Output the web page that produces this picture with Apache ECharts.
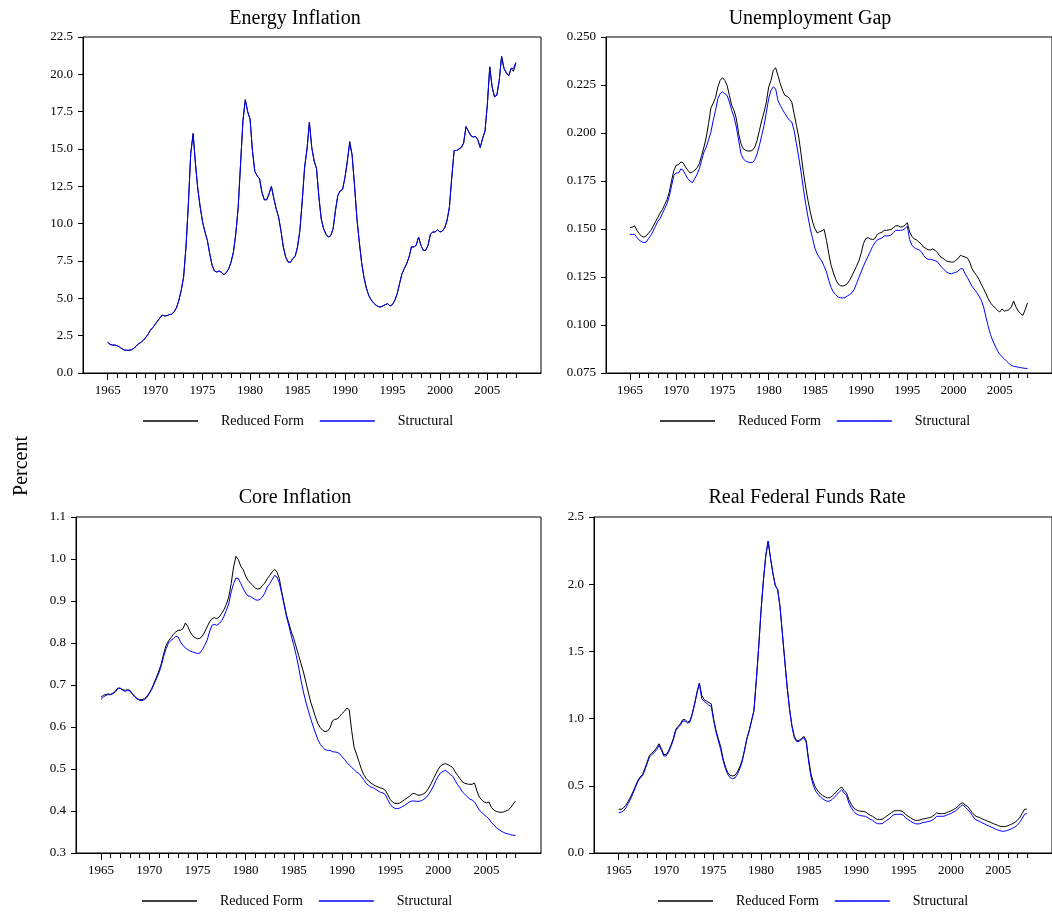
<!DOCTYPE html>
<html>
<head>
<meta charset="utf-8">
<script src="https://cdn.jsdelivr.net/npm/echarts@6/dist/echarts.min.js"></script>
<style>
html,body{margin:0;padding:0;background:#fff;}
#chart{width:1052px;height:914px;}
</style>
</head>
<body>
<div id="chart"></div>
<script>
// Quarterly observations, 1965Q1 .. 2008Q1
const START_YEAR = 1965;
const PERIODS_PER_YEAR = 4;

const panelTitles = ['Energy Inflation', 'Unemployment Gap', 'Core Inflation', 'Real Federal Funds Rate'];
const seriesNames = ['Reduced Form', 'Structural'];
const yAxisTitle = 'Percent';
const xLabelYears = [1965, 1970, 1975, 1980, 1985, 1990, 1995, 2000, 2005];
const xTickYears = [1965,1966,1967,1968,1969,1970,1971,1972,1973,1974,1975,1976,1977,1978,1979,1980,1981,1982,1983,1984,1985,1986,1987,1988,1989,1990,1991,1992,1993,1994,1995,1996,1997,1998,1999,2000,2001,2002,2003,2004,2005,2006,2007,2008];

const energyStructural = [2.05,1.92,1.87,1.87, 1.83,1.74,1.63,1.54, 1.52,1.52,1.56,1.65, 1.79,1.96,2.05,2.19, 2.37,2.59,2.86,3.04, 3.26,3.48,3.68,3.88, 3.82,3.84,3.91,3.93, 4.11,4.37,4.87,5.54, 6.43,8.44,11.3,14.7, 15.98,14.0,12.3,11.1, 10.1,9.44,8.88,7.99, 7.21,6.83,6.76,6.83, 6.74,6.58,6.74,6.99, 7.43,8.10,9.33,11.1, 14.0,16.9,18.3,17.5, 17.0,14.9,13.5,13.2, 13.0,12.1,11.6,11.6, 12.0,12.5,11.7,11.0, 10.45,9.55,8.44,7.77, 7.43,7.41,7.66,7.81, 8.44,9.55,11.56,13.8, 15.0,16.8,15.1,14.2, 13.7,11.8,10.3,9.66, 9.29,9.1,9.2,9.66, 10.9,11.9,12.2,12.3, 13.1,14.2,15.4,14.6, 12.6,10.4,8.8,7.4, 6.4,5.7,5.2,4.9, 4.7,4.55,4.45,4.42, 4.49,4.58,4.64,4.49, 4.58,4.87,5.31,5.98, 6.65,6.99,7.32,7.77, 8.44,8.44,8.55,9.1, 8.55,8.21,8.21,8.55, 9.29,9.44,9.44,9.6, 9.44,9.5,9.71,10.2, 11.1,13.1,14.9,14.9, 15.0,15.1,15.4,16.5, 16.2,15.9,15.8,15.85, 15.6,15.1,15.7,16.2, 18.0,20.5,19.15,18.5, 18.6,19.6,21.2,20.4, 20.1,19.9,20.4,20.4, 20.8];
const energyReduced = [2.05,1.92,1.87,1.87, 1.83,1.74,1.63,1.54, 1.52,1.52,1.56,1.65, 1.79,1.96,2.05,2.19, 2.37,2.59,2.86,3.04, 3.26,3.48,3.68,3.88, 3.82,3.84,3.91,3.93, 4.11,4.37,4.87,5.54, 6.43,8.44,11.3,14.7, 16.05,14.0,12.3,11.1, 10.1,9.44,8.88,7.99, 7.21,6.83,6.76,6.83, 6.74,6.58,6.74,6.99, 7.43,8.10,9.33,11.1, 14.0,16.9,18.3,17.5, 17.0,14.9,13.5,13.2, 13.0,12.1,11.6,11.6, 12.0,12.5,11.7,11.0, 10.45,9.55,8.44,7.77, 7.43,7.41,7.66,7.81, 8.44,9.55,11.56,13.8, 15.0,16.8,15.1,14.2, 13.7,11.8,10.3,9.66, 9.29,9.1,9.2,9.66, 10.9,11.9,12.2,12.3, 13.1,14.2,15.5,14.6, 12.6,10.4,8.8,7.4, 6.4,5.7,5.2,4.9, 4.7,4.55,4.45,4.42, 4.49,4.58,4.64,4.49, 4.58,4.87,5.31,5.98, 6.65,6.99,7.32,7.77, 8.44,8.44,8.55,9.1, 8.55,8.21,8.21,8.55, 9.29,9.44,9.44,9.6, 9.44,9.5,9.71,10.2, 11.1,13.1,14.9,14.9, 15.0,15.1,15.4,16.5, 16.2,15.9,15.8,15.85, 15.6,15.1,15.7,16.2, 18.0,20.5,19.15,18.5, 18.6,19.6,21.2,20.4, 20.1,19.9,20.4,20.2, 20.75];

const unempReduced = [0.1507,0.1510,0.1516,0.1493, 0.1476,0.1462,0.1458,0.1464, 0.1479,0.1493,0.1514,0.1537, 0.1559,0.1583,0.1601,0.1627, 0.1653,0.1693,0.1754,0.1806, 0.1832,0.1835,0.1849,0.1844, 0.1823,0.1806,0.1792,0.1797, 0.1806,0.1819,0.1840,0.1884, 0.1927,0.1979,0.2049,0.2130, 0.2156,0.2184,0.2240,0.2274, 0.2288,0.2274,0.2248,0.2196, 0.2144,0.2118,0.2075,0.1997, 0.1944,0.1918,0.1910,0.1906, 0.1906,0.1910,0.1927,0.1962, 0.2014,0.2066,0.2109,0.2161, 0.2240,0.2274,0.2326,0.2340, 0.2300,0.2257,0.2222,0.2196, 0.2191,0.2179,0.2161,0.2101, 0.2040,0.1979,0.1892,0.1797, 0.1719,0.1649,0.1589,0.1537, 0.1502,0.1479,0.1486,0.1490, 0.1498,0.1441,0.1372,0.1311, 0.1271,0.1238,0.1215,0.1205, 0.1203,0.1207,0.1215,0.1233, 0.1255,0.1281,0.1306,0.1333, 0.1372,0.1424,0.1450,0.1455, 0.1448,0.1445,0.1450,0.1472, 0.1479,0.1483,0.1493,0.1493, 0.1495,0.1498,0.1507,0.1517, 0.1517,0.1510,0.1512,0.1519, 0.1533,0.1484,0.1462,0.1448, 0.1443,0.1432,0.1422,0.1406, 0.1399,0.1392,0.1391,0.1396, 0.1389,0.1377,0.1359,0.1351, 0.1342,0.1333,0.1330,0.1328, 0.1328,0.1337,0.1347,0.1363, 0.1358,0.1354,0.1349,0.1328, 0.1293,0.1274,0.1257,0.1238, 0.1212,0.1189,0.1163,0.1137, 0.1115,0.1101,0.1089,0.1077, 0.1068,0.1083,0.1073,0.1075, 0.1080,0.1094,0.1125,0.1094, 0.1073,0.1059,0.1050,0.1080, 0.1115];
const unempStructural = [0.1472,0.1472,0.1472,0.1455, 0.1441,0.1434,0.1429,0.1432, 0.1450,0.1467,0.1490,0.1514, 0.1540,0.1554,0.1580,0.1606, 0.1632,0.1670,0.1727,0.1780, 0.1792,0.1792,0.1813,0.1806, 0.1783,0.1762,0.1750,0.1741, 0.1762,0.1785,0.1814,0.1858, 0.1901,0.1927,0.1965,0.2005, 0.2066,0.2118,0.2179,0.2205, 0.2214,0.2205,0.2196,0.2161, 0.2118,0.2083,0.2031,0.1962, 0.1892,0.1866,0.1854,0.1849, 0.1846,0.1846,0.1861,0.1892, 0.1936,0.1988,0.2040,0.2109, 0.2179,0.2222,0.2240,0.2231, 0.2170,0.2144,0.2122,0.2101, 0.2083,0.2066,0.2057,0.2014, 0.1944,0.1875,0.1797,0.1710, 0.1632,0.1563,0.1502,0.1450, 0.1400,0.1370,0.1350,0.1333, 0.1306,0.1276,0.1233,0.1195, 0.1172,0.1158,0.1146,0.1142, 0.1141,0.1142,0.1151,0.1158, 0.1167,0.1186,0.1215,0.1247, 0.1276,0.1306,0.1333,0.1358, 0.1384,0.1410,0.1429,0.1443, 0.1448,0.1453,0.1464,0.1464, 0.1465,0.1469,0.1481,0.1493, 0.1493,0.1493,0.1495,0.1502, 0.1514,0.1445,0.1415,0.1403, 0.1396,0.1392,0.1382,0.1363, 0.1349,0.1342,0.1342,0.1339, 0.1335,0.1330,0.1313,0.1299, 0.1287,0.1276,0.1269,0.1267, 0.1271,0.1274,0.1281,0.1293, 0.1293,0.1267,0.1247,0.1224, 0.1201,0.1186,0.1170,0.1151, 0.1129,0.1094,0.1042,0.0993, 0.0950,0.0917,0.0891,0.0866, 0.0847,0.0835,0.0823,0.0811, 0.0799,0.0790,0.0785,0.0783, 0.0780,0.0778,0.0776,0.0774, 0.0774];

const coreReduced = [0.6714,0.6754,0.6778,0.6786, 0.6778,0.6810,0.6857,0.6929, 0.6921,0.6889,0.6873,0.6889, 0.6873,0.6794,0.6730,0.6675, 0.6651,0.6651,0.6675,0.6730, 0.6810,0.6913,0.7048,0.7190, 0.7333,0.7508,0.7746,0.7944, 0.8048,0.8127,0.8206,0.8262, 0.8302,0.8302,0.8341,0.8476, 0.8397,0.8262,0.8175,0.8127, 0.8103,0.8111,0.8159,0.8262, 0.8381,0.8500,0.8579,0.8603, 0.8579,0.8619,0.8698,0.8794, 0.8921,0.9095,0.9413,0.9810, 1.0063,0.9984,0.9825,0.9746, 0.9595,0.9492,0.9429,0.9365, 0.9310,0.9286,0.9294,0.9373, 0.9429,0.9532,0.9611,0.9690, 0.9754,0.9690,0.9532,0.9214, 0.8937,0.8659,0.8460,0.8262, 0.8103,0.7905,0.7706,0.7508, 0.7310,0.7071,0.6833,0.6595, 0.6421,0.6238,0.6079,0.5984, 0.5921,0.5889,0.5905,0.5976, 0.6143,0.6183,0.6190,0.6254, 0.6317,0.6373,0.6452,0.6413, 0.5921,0.5524,0.5357,0.5183, 0.5008,0.4865,0.4778,0.4714, 0.4667,0.4627,0.4595,0.4571, 0.4548,0.4532,0.4492,0.4389, 0.4278,0.4214,0.4183,0.4175, 0.4190,0.4230,0.4270,0.4310, 0.4349,0.4405,0.4421,0.4389, 0.4373,0.4389,0.4413,0.4460, 0.4548,0.4651,0.4770,0.4889, 0.5000,0.5079,0.5111,0.5127, 0.5103,0.5071,0.5032,0.4929, 0.4849,0.4770,0.4690,0.4659, 0.4643,0.4635,0.4635,0.4667, 0.4476,0.4333,0.4262,0.4214, 0.4198,0.4214,0.4087,0.4024, 0.3992,0.3976,0.3968,0.3976, 0.4000,0.4024,0.4079,0.4159, 0.4238];
const coreStructural = [0.6659,0.6714,0.6754,0.6770, 0.6770,0.6794,0.6841,0.6921, 0.6921,0.6873,0.6849,0.6873, 0.6857,0.6778,0.6714,0.6667, 0.6635,0.6627,0.6651,0.6698, 0.6794,0.6889,0.7016,0.7151, 0.7286,0.7460,0.7683,0.7865, 0.8000,0.8063,0.8103,0.8159, 0.8143,0.8024,0.7944,0.7881, 0.7841,0.7810,0.7786,0.7770, 0.7746,0.7762,0.7841,0.7944, 0.8063,0.8262,0.8421,0.8444, 0.8421,0.8460,0.8524,0.8635, 0.8778,0.8937,0.9214,0.9413, 0.9548,0.9532,0.9413,0.9294, 0.9190,0.9119,0.9111,0.9071, 0.9032,0.9016,0.9040,0.9095, 0.9198,0.9333,0.9413,0.9508, 0.9611,0.9571,0.9429,0.9175, 0.8897,0.8619,0.8397,0.8159, 0.7944,0.7706,0.7429,0.7111, 0.6833,0.6595,0.6397,0.6198, 0.6024,0.5857,0.5698,0.5587, 0.5516,0.5460,0.5444,0.5444, 0.5413,0.5405,0.5397,0.5365, 0.5294,0.5230,0.5159,0.5095, 0.5040,0.4984,0.4929,0.4897, 0.4825,0.4746,0.4659,0.4611, 0.4571,0.4548,0.4516,0.4476, 0.4444,0.4429,0.4389,0.4270, 0.4159,0.4095,0.4063,0.4056, 0.4071,0.4103,0.4135,0.4175, 0.4214,0.4238,0.4238,0.4230, 0.4230,0.4246,0.4278,0.4325, 0.4397,0.4492,0.4595,0.4730, 0.4833,0.4913,0.4944,0.4968, 0.4921,0.4865,0.4825,0.4722, 0.4627,0.4548,0.4452,0.4397, 0.4341,0.4286,0.4262,0.4214, 0.4119,0.4016,0.3968,0.3913, 0.3865,0.3810,0.3730,0.3667, 0.3611,0.3563,0.3524,0.3492, 0.3468,0.3452,0.3437,0.3421, 0.3421];

const fundsReduced = [0.325,0.325,0.335,0.355, 0.384,0.417,0.454,0.496, 0.536,0.565,0.583,0.627, 0.677,0.727,0.744,0.759, 0.784,0.813,0.776,0.732, 0.732,0.759,0.801,0.851, 0.918,0.942,0.962,0.992, 0.992,0.975,0.982,1.037, 1.111,1.198,1.265,1.173, 1.141,1.131,1.119,1.111, 0.999,0.913,0.851,0.789, 0.702,0.640,0.598,0.578, 0.573,0.578,0.603,0.640, 0.689,0.764,0.851,0.913, 0.987,1.060,1.285,1.533, 1.806,2.030,2.215,2.320, 2.190,2.080,1.990,1.960, 1.830,1.630,1.430,1.235, 1.074,0.950,0.868,0.838, 0.838,0.851,0.868,0.838, 0.702,0.590,0.528,0.486, 0.461,0.441,0.427,0.417, 0.409,0.412,0.424,0.441, 0.461,0.479,0.491,0.466, 0.446,0.397,0.362,0.335, 0.322,0.315,0.310,0.310, 0.305,0.293,0.280,0.273, 0.260,0.250,0.250,0.250, 0.263,0.275,0.288,0.300, 0.313,0.315,0.315,0.313, 0.305,0.285,0.273,0.263, 0.250,0.243,0.243,0.246, 0.253,0.255,0.260,0.263, 0.270,0.283,0.298,0.293, 0.293,0.293,0.298,0.308, 0.313,0.322,0.332,0.347, 0.367,0.374,0.357,0.347, 0.325,0.300,0.280,0.270, 0.265,0.255,0.248,0.241, 0.233,0.226,0.218,0.211, 0.203,0.198,0.196,0.198, 0.203,0.211,0.218,0.228, 0.243,0.263,0.293,0.325, 0.327];
const fundsStructural = [0.300,0.303,0.313,0.335, 0.367,0.402,0.441,0.486, 0.528,0.558,0.573,0.615, 0.665,0.714,0.732,0.747, 0.769,0.801,0.764,0.722, 0.722,0.749,0.791,0.838, 0.908,0.933,0.952,0.982, 0.982,0.967,0.972,1.032, 1.106,1.190,1.260,1.148, 1.128,1.116,1.099,1.091, 0.987,0.900,0.833,0.769, 0.689,0.627,0.585,0.560, 0.553,0.558,0.585,0.625, 0.677,0.759,0.846,0.908, 0.982,1.060,1.285,1.533, 1.806,2.030,2.215,2.320, 2.190,2.080,1.990,1.960, 1.830,1.630,1.430,1.235, 1.069,0.942,0.858,0.828, 0.831,0.843,0.858,0.826, 0.685,0.570,0.503,0.461, 0.437,0.417,0.402,0.392, 0.384,0.387,0.399,0.417, 0.437,0.454,0.471,0.446, 0.429,0.372,0.337,0.310, 0.293,0.283,0.278,0.275, 0.273,0.263,0.250,0.243, 0.228,0.218,0.218,0.218, 0.231,0.243,0.255,0.273, 0.285,0.288,0.288,0.288, 0.280,0.260,0.248,0.236, 0.226,0.218,0.216,0.218, 0.226,0.228,0.233,0.236, 0.243,0.255,0.273,0.273, 0.273,0.273,0.280,0.288, 0.293,0.305,0.313,0.330, 0.347,0.360,0.342,0.325, 0.305,0.280,0.255,0.243, 0.236,0.226,0.218,0.208, 0.201,0.193,0.186,0.176, 0.169,0.164,0.161,0.164, 0.169,0.176,0.184,0.193, 0.208,0.228,0.255,0.288, 0.293];

const panelData = [
  { reduced: energyReduced, structural: energyStructural, yMin: 0, yMax: 22.5, yStep: 2.5, dec: 1 },
  { reduced: unempReduced, structural: unempStructural, yMin: 0.075, yMax: 0.25, yStep: 0.025, dec: 3 },
  { reduced: coreReduced, structural: coreStructural, yMin: 0.3, yMax: 1.1, yStep: 0.1, dec: 1 },
  { reduced: fundsReduced, structural: fundsStructural, yMin: 0, yMax: 2.5, yStep: 0.5, dec: 1 }
];

// ---- layout ----
const FONT = '"Liberation Serif", "Times New Roman", serif';
const X_MIN = 1962.4, X_MAX = 2010.65;
const grids = [
  { left: 83, top: 37, width: 458, height: 336 },
  { left: 606, top: 37, width: 452, height: 336 },
  { left: 76, top: 517, width: 465, height: 336 },
  { left: 594, top: 517, width: 463, height: 336 }
];
const titlePos = [[295, 9], [810, 9], [295, 488], [807, 488]];
const legendPos = [[143, 414], [660, 414], [142, 894], [658, 894]];

function toPairs(vals) {
  return vals.map((v, i) => [START_YEAR + i / PERIODS_PER_YEAR, v]);
}

const option = {
  backgroundColor: '#fff',
  animation: false,
  grid: grids.map(g => Object.assign({ show: true, borderColor: '#000', borderWidth: 1, backgroundColor: 'transparent' }, g)),
  xAxis: [],
  yAxis: [],
  series: [],
  legend: [],
  graphic: []
};

panelData.forEach((p, gi) => {
  option.xAxis.push({
    type: 'value', gridIndex: gi, min: X_MIN, max: X_MAX, position: 'bottom',
    axisLine: { show: true, lineStyle: { color: '#000', width: 1 } },
    axisTick: { show: true, length: 7, customValues: xLabelYears, lineStyle: { color: '#000' } },
    axisLabel: { show: true, customValues: xLabelYears, formatter: v => String(v), margin: 11,
      fontFamily: FONT, fontSize: 13, color: '#000' },
    splitLine: { show: false }
  });
  option.xAxis.push({
    type: 'value', gridIndex: gi, min: X_MIN, max: X_MAX, position: 'bottom',
    axisLine: { show: false },
    axisTick: { show: true, length: 5, customValues: xTickYears, lineStyle: { color: '#000' } },
    axisLabel: { show: false },
    splitLine: { show: false }
  });
  option.yAxis.push({
    type: 'value', gridIndex: gi, min: p.yMin, max: p.yMax, interval: p.yStep,
    axisLine: { show: true, lineStyle: { color: '#000', width: 1 } },
    axisTick: { show: true, length: 5, lineStyle: { color: '#000' } },
    axisLabel: { margin: 10, fontFamily: FONT, fontSize: 13, color: '#000',
      formatter: v => Number(v).toFixed(p.dec) },
    splitLine: { show: false }
  });
  option.series.push({
    name: seriesNames[0], type: 'line', xAxisIndex: gi * 2, yAxisIndex: gi,
    data: toPairs(p.reduced), symbol: 'none', showSymbol: false,
    lineStyle: { color: '#000', width: 1 }, itemStyle: { color: '#000' }, z: 2
  });
  option.series.push({
    name: seriesNames[1], type: 'line', xAxisIndex: gi * 2, yAxisIndex: gi,
    data: toPairs(p.structural), symbol: 'none', showSymbol: false,
    lineStyle: { color: '#0000ff', width: 1 }, itemStyle: { color: '#0000ff' }, z: 3
  });
  option.legend.push({
    left: legendPos[gi][0], top: legendPos[gi][1], orient: 'horizontal', padding: 0,
    data: seriesNames, icon: 'rect', itemWidth: 55, itemHeight: 1.4, itemGap: 16,
    selectedMode: false,
    textStyle: { fontFamily: FONT, fontSize: 14, color: '#000', padding: [0, 0, 0, 18] }
  });
  option.graphic.push({
    type: 'text', x: titlePos[gi][0], y: titlePos[gi][1],
    style: { text: panelTitles[gi], font: '20px ' + FONT, fill: '#000', textAlign: 'center', textVerticalAlign: 'top' }
  });
});

option.graphic.push({
  type: 'text', x: 22, y: 466, rotation: Math.PI / 2,
  style: { text: yAxisTitle, font: '20px ' + FONT, fill: '#000', textAlign: 'center', textVerticalAlign: 'middle' }
});

const chart = echarts.init(document.getElementById('chart'), null, { renderer: 'canvas' });
chart.setOption(option);
</script>
</body>
</html>
